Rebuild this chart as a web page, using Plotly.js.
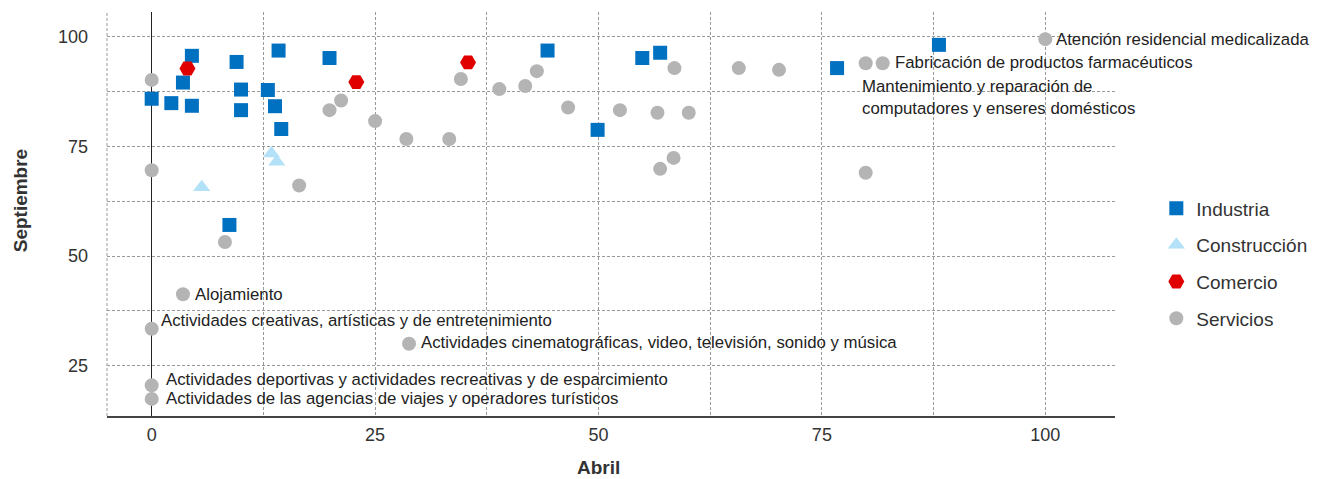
<!DOCTYPE html>
<html>
<head>
<meta charset="utf-8">
<script src="https://cdn.plot.ly/plotly-3.0.1.min.js"></script>
<style>html,body{margin:0;padding:0;background:#fff;}#chart{width:1321px;height:479px;}</style>
</head>
<body>
<div id="chart"></div>
<script>
// ---- Data (Abril = x, Septiembre = y) ----
const industriaX = [0, 2.2, 3.5, 4.5, 4.5, 8.7, 9.5, 10.0, 10.0, 13.0, 13.8, 14.2, 14.5, 19.9, 44.3, 49.9, 54.9, 56.9, 76.7, 88.1];
const industriaY = [85.9, 84.9, 89.6, 95.7, 84.3, 57.1, 94.3, 88.0, 83.3, 87.9, 84.2, 96.9, 79.0, 95.2, 96.9, 78.8, 95.2, 96.4, 92.9, 98.2];

const construccionX = [5.6, 13.4, 14.0];
const construccionY = [65.7, 73.4, 71.5];

const comercioX = [4.0, 22.9, 35.4];
const comercioY = [92.8, 89.7, 94.2];

const serviciosX = [0, 0, 16.5, 19.9, 21.2, 25.0, 28.5, 33.3, 34.6, 38.9, 41.8, 43.1, 46.6, 52.4, 56.6, 60.1, 58.5, 58.4, 56.9, 65.7, 70.2, 79.9, 81.8, 100, 79.9, 8.2, 3.5, 0, 28.8, 0, 0];
const serviciosY = [90.2, 69.6, 66.1, 83.3, 85.5, 80.8, 76.7, 76.7, 90.4, 88.1, 88.8, 92.2, 83.9, 83.3, 82.7, 82.7, 92.9, 72.4, 69.9, 92.9, 92.5, 94.0, 94.0, 99.5, 69.0, 53.2, 41.3, 33.4, 30.0, 20.5, 17.4];

// labelled Servicios points (index into serviciosX/Y) and their texts
const labelIndex = [23, 22, 21, 26, 27, 28, 29, 30];
const labelText = [
  "Atención residencial medicalizada",
  "Fabricación de productos farmacéuticos",
  "Mantenimiento y reparación de<br>computadores y enseres domésticos",
  "Alojamiento",
  "Actividades creativas, artísticas y de entretenimiento",
  "Actividades cinematográficas, video, televisión, sonido y música",
  "Actividades deportivas y actividades recreativas y de esparcimiento",
  "Actividades de las agencias de viajes y operadores turísticos"
];

const xTickVals = [0, 25, 50, 75, 100];
const yTickVals = [25, 50, 75, 100];
const xTitle = "Abril";
const yTitle = "Septiembre";

// ---- Styling ----
const FONT = "Liberation Sans, Arial, sans-serif";
const labelStyle = [
  {xanchor: "left", yanchor: "middle", xshift: 9, yshift: 0},
  {xanchor: "left", yanchor: "middle", xshift: 10, yshift: 1},
  {xanchor: "left", yanchor: "top", xshift: -6, yshift: -12},
  {xanchor: "left", yanchor: "middle", xshift: 10, yshift: 0},
  {xanchor: "left", yanchor: "middle", xshift: 7, yshift: 8},
  {xanchor: "left", yanchor: "middle", xshift: 10, yshift: 1},
  {xanchor: "left", yanchor: "middle", xshift: 12, yshift: 6},
  {xanchor: "left", yanchor: "middle", xshift: 12, yshift: 0}
];

const traces = [
  {x: industriaX, y: industriaY, name: "Industria", type: "scatter", mode: "markers", legendgroup: "a",
   marker: {symbol: "square", size: 14, color: "#0070C0"}},
  {x: construccionX, y: construccionY, name: "Construcción", type: "scatter", mode: "markers", legendgroup: "b",
   marker: {symbol: "triangle-up", size: 15, color: "#B3E1F7"}},
  {x: comercioX, y: comercioY, name: "Comercio", type: "scatter", mode: "markers", legendgroup: "c",
   marker: {symbol: "hexagon2", size: 16, color: "#E00000"}},
  {x: serviciosX, y: serviciosY, name: "Servicios", type: "scatter", mode: "markers", legendgroup: "d",
   marker: {symbol: "circle", size: 14, color: "#B4B4B4"}}
];

const annotations = labelIndex.map((idx, i) => Object.assign({
  x: serviciosX[idx], y: serviciosY[idx], text: labelText[i], showarrow: false,
  align: "left", font: {family: FONT, size: 16.8, color: "#222"}
}, labelStyle[i]));

// axis titles, centred on the labelled tick span
annotations.push({
  xref: "x", x: (xTickVals[0] + xTickVals[xTickVals.length - 1]) / 2, yref: "paper", y: 0,
  yanchor: "middle", xanchor: "center", yshift: -51, showarrow: false, text: xTitle,
  font: {family: FONT, size: 19, color: "#333", weight: "bold"}
});
annotations.push({
  xref: "paper", x: 0, yref: "y", y: (yTickVals[0] + yTickVals[yTickVals.length - 1]) / 2,
  xanchor: "center", yanchor: "middle", xshift: -87, textangle: -90, showarrow: false, text: yTitle,
  font: {family: FONT, size: 19, color: "#333", weight: "bold"}
});

const gridStyle = {gridcolor: "#9a9a9a", griddash: "3px,2px", gridwidth: 1};

const layout = {
  width: 1321, height: 479,
  margin: {l: 107, r: 206, t: 12, b: 63, autoexpand: false},
  paper_bgcolor: "#fff", plot_bgcolor: "#fff",
  font: {family: FONT, size: 18, color: "#333"},
  showlegend: true,
  legend: {x: 1.041, xanchor: "left", y: 0.378, yanchor: "middle", tracegroupgap: 9,
           font: {family: FONT, size: 19, color: "#333"}},
  xaxis: Object.assign({
    range: [-5, 107.8], tickvals: xTickVals, ticks: "", showgrid: true,
    minor: Object.assign({dtick: 12.5, tick0: 0, showgrid: true, ticks: ""}, gridStyle),
    zeroline: true, zerolinecolor: "#222", zerolinewidth: 1.5,
    showline: true, linecolor: "#444", linewidth: 1.5,
    tickfont: {size: 18, color: "#333"}, ticklabelstandoff: 2
  }, gridStyle),
  yaxis: Object.assign({
    range: [13.5, 105.7], tickvals: yTickVals, ticks: "", showgrid: true,
    minor: Object.assign({dtick: 12.5, tick0: 0, showgrid: true, ticks: ""}, gridStyle),
    zeroline: false, showline: false,
    tickfont: {size: 18, color: "#333"}, ticklabelstandoff: 18
  }, gridStyle),
  shapes: [{type: "line", xref: "paper", yref: "paper", x0: 0, x1: 0, y0: 0, y1: 1,
            line: {color: "#9a9a9a", width: 1, dash: "3px,2px"}, layer: "below"}],
  annotations: annotations
};

Plotly.newPlot("chart", traces, layout, {displayModeBar: false, staticPlot: true});
</script>
</body>
</html>
